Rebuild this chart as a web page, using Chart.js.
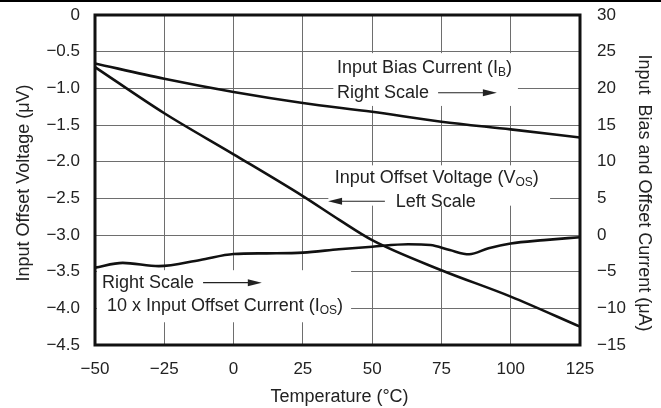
<!DOCTYPE html>
<html>
<head>
<meta charset="utf-8">
<script src="https://cdn.jsdelivr.net/npm/chart.js@4"></script>
<style>
  body { margin: 0; background: #fff; }
  #wrap { width: 661px; height: 408px; }
</style>
</head>
<body>
<div id="wrap"><canvas id="grafico" width="661" height="408"></canvas></div>
<script>
// valores (temperatura em °C)
const tempIB = [-50, -25, 0, 25, 50, 75, 100, 125];
const biasCurrent = [23.4, 21.3, 19.5, 18.0, 16.8, 15.45, 14.4, 13.3]; // uA, escala direita

const tempVOS = [-50, -25, 0, 25, 38, 50, 75, 100, 125];
const offsetVoltage = [-0.71, -1.34, -1.90, -2.47, -2.79, -3.07, -3.48, -3.84, -4.25]; // uV, escala esquerda

const tempIOS = [-50, -40, -27, -12, 0, 12, 25, 38, 50, 63, 71, 78, 85, 92, 100, 112, 125];
const offsetCurrent10x = [-4.45, -3.8, -4.25, -3.4, -2.6, -2.5, -2.4, -1.95, -1.6, -1.27, -1.36, -2.05, -2.63, -1.8, -1.15, -0.7, -0.3]; // uA x10, escala direita

const xTicks = [-50, -25, 0, 25, 50, 75, 100, 125];
const leftTicks = [0, -0.5, -1.0, -1.5, -2.0, -2.5, -3.0, -3.5, -4.0, -4.5];
const rightTicks = [30, 25, 20, 15, 10, 5, 0, -5, -10, -15];

const FONTE = '"Liberation Sans", Arial, sans-serif';
const menos = s => String(s).replace("-", "\u2212");

const pares = (xs, ys) => xs.map((t, i) => ({ x: t, y: ys[i] }));

function texto(ctx, partes, x, y) {
  let cx = x;
  partes.forEach(([s, sub]) => {
    ctx.font = (sub ? "12px " : "18px ") + FONTE;
    ctx.fillText(s, cx, sub ? y + 5 : y);
    cx += ctx.measureText(s).width;
  });
}

function seta(ctx, x1, x2, y) {
  const dir = x2 > x1 ? 1 : -1;
  ctx.beginPath();
  ctx.moveTo(x1, y);
  ctx.lineTo(x2 - dir * 10, y);
  ctx.lineWidth = 1.2;
  ctx.stroke();
  ctx.beginPath();
  ctx.moveTo(x2, y);
  ctx.lineTo(x2 - dir * 14, y - 3.5);
  ctx.lineTo(x2 - dir * 14, y + 3.5);
  ctx.closePath();
  ctx.fill();
}

const anotacoes = {
  id: "anotacoes",
  beforeDraw(c) {
    const ctx = c.ctx;
    ctx.save();
    ctx.fillStyle = "#fff";
    ctx.fillRect(0, 0, c.width, c.height);
    ctx.fillStyle = "#000";
    ctx.fillRect(0, 0, c.width, 2);
    ctx.restore();
  },
  beforeDatasetsDraw(c) {
    const ctx = c.ctx;
    const px = t => c.scales.x.getPixelForValue(t);
    const py = v => c.scales.y.getPixelForValue(v);
    ctx.save();
    ctx.fillStyle = "#fff";
    [[36, 102.6, -0.52, -1.24], [34.2, 114.2, -2.05, -2.60], [-49.3, 42.4, -3.48, -4.19]]
      .forEach(([t1, t2, v1, v2]) => {
        ctx.fillRect(px(t1), py(v1), px(t2) - px(t1), py(v2) - py(v1));
      });
    ctx.restore();
  },
  afterDatasetsDraw(c) {
    const ctx = c.ctx;
    const a = c.chartArea;
    const px = t => c.scales.x.getPixelForValue(t);
    const py = v => c.scales.y.getPixelForValue(v);
    ctx.save();
    ctx.strokeStyle = "#111";
    ctx.lineWidth = 3;
    ctx.strokeRect(a.left, a.top, a.right - a.left, a.bottom - a.top);

    ctx.fillStyle = "#222";
    ctx.strokeStyle = "#222";
    ctx.textBaseline = "middle";
    ctx.textAlign = "left";
    texto(ctx, [["Input Bias Current (I"], ["B", true], [")"]], px(37.3), py(-0.72));
    texto(ctx, [["Right Scale"]], px(37.3), py(-1.06));
    seta(ctx, px(73.8), px(95), py(-1.06));

    texto(ctx, [["Input Offset Voltage (V"], ["OS", true], [")"]], px(36.5), py(-2.22));
    texto(ctx, [["Left Scale"]], px(58.5), py(-2.55));
    seta(ctx, px(54.6), px(34.1), py(-2.54));

    texto(ctx, [["Right Scale"]], px(-47.5), py(-3.65));
    seta(ctx, px(-11), px(10.2), py(-3.65));
    texto(ctx, [[" 10 x Input Offset Current (I"], ["OS", true], [")"]], px(-47.5), py(-3.97));

    // titulos dos eixos
    ctx.font = "18px " + FONTE;
    ctx.textAlign = "center";
    ctx.fillText("Temperature (\u00B0C)", (a.left + a.right) / 2 + 2, 397);

    ctx.translate(24, 183);
    ctx.rotate(-Math.PI / 2);
    ctx.fillText("Input Offset Voltage (\u03BCV)", 0, 0);
    ctx.restore();

    ctx.save();
    ctx.fillStyle = "#222";
    ctx.font = "18px " + FONTE;
    ctx.textAlign = "center";
    ctx.textBaseline = "middle";
    ctx.translate(644, 193);
    ctx.rotate(Math.PI / 2);
    ctx.fillText("Input  Bias and Offset Current (\u03BCA)", 0, 0);
    ctx.restore();
  }
};

// sem folga extra das labels nas pontas dos eixos
const semFolga = s => { s.paddingTop = 0; s.paddingBottom = 0; s.paddingLeft = 0; s.paddingRight = 0; };

document.addEventListener("DOMContentLoaded", () => {
  const grafico = document.getElementById("grafico");
  const serie = (dados, eixo) => ({
    data: dados,
    yAxisID: eixo,
    borderColor: "#111",
    borderWidth: 2.6,
    pointRadius: 0,
    fill: false,
    cubicInterpolationMode: "monotone"
  });
  const tickFont = { family: FONTE, size: 17 };

  new Chart(grafico, {
    type: "line",
    data: {
      datasets: [
        serie(pares(tempIB, biasCurrent), "y1"),
        serie(pares(tempVOS, offsetVoltage), "y"),
        serie(pares(tempIOS, offsetCurrent10x), "y1")
      ]
    },
    options: {
      responsive: false,
      animation: false,
      devicePixelRatio: 1,
      layout: { padding: { top: 15, left: 0, right: 0, bottom: 0 } },
      plugins: { legend: { display: false }, tooltip: { enabled: false } },
      scales: {
        x: {
          type: "linear",
          min: -50,
          max: 125,
          afterBuildTicks: s => { s.ticks = xTicks.map(v => ({ value: v })); },
          afterFit: s => { s.height = 63; semFolga(s); },
          ticks: { color: "#222", font: tickFont, padding: 14, maxRotation: 0, callback: v => menos(v) },
          grid: { color: "#6e6e6e", lineWidth: 1, drawTicks: false },
          border: { display: false }
        },
        y: {
          position: "left",
          min: -4.5,
          max: 0,
          afterBuildTicks: s => { s.ticks = leftTicks.map(v => ({ value: v })); },
          afterFit: s => { s.width = 95; semFolga(s); },
          ticks: { color: "#222", font: tickFont, padding: 15, callback: v => v === 0 ? "0" : menos(v.toFixed(1)) },
          grid: { color: "#6e6e6e", lineWidth: 1, drawTicks: false },
          border: { display: false }
        },
        y1: {
          position: "right",
          min: -15,
          max: 30,
          afterBuildTicks: s => { s.ticks = rightTicks.map(v => ({ value: v })); },
          afterFit: s => { s.width = 81; semFolga(s); },
          ticks: { color: "#222", font: tickFont, padding: 17, callback: v => menos(v) },
          grid: { display: false, drawTicks: false },
          border: { display: false }
        }
      }
    },
    plugins: [anotacoes]
  });
});
</script>
</body>
</html>
